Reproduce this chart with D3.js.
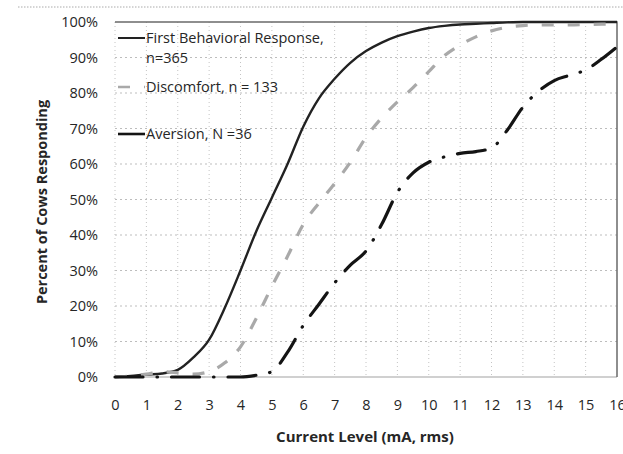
<!DOCTYPE html>
<html>
<head>
<meta charset="utf-8">
<script src="https://cdn.jsdelivr.net/npm/d3@7"></script>
<style>
  html, body { margin: 0; padding: 0; background: #fff; }
  svg { display: block; }
  text { font-family: "Open Sans", "Noto Sans", sans-serif; fill: #262626; }
</style>
</head>
<body>
<div id="chart"></div>
<script>
// Cumulative percent of cows responding vs. current level (mA, rms)

const currentLevels = [0, 0.5, 1, 1.5, 2, 2.5, 3, 3.5, 4, 4.5, 5, 5.5, 6, 6.5, 7, 7.5, 8,
                       8.5, 9, 9.5, 10, 10.5, 11, 11.5, 12, 12.5, 13, 13.5, 14, 14.5, 15, 15.5, 16];

const firstResponse = [0, 0.3, 0.7, 1.0, 2.0, 5.5, 10.5, 19.5, 30, 41, 50.5, 60, 70.5, 78.5, 84, 88.5, 91.8,
                       94.2, 96, 97.3, 98.3, 98.9, 99.3, 99.5, 99.7, 99.9, 100, 100, 100, 100, 100, 100, 100];

const discomfort = [0, 0.3, 0.8, 1.5, 1.2, 0.8, 1.5, 4, 8.5, 16.5, 25.5, 34, 43, 49, 54.5, 60.5, 67.5,
                    73, 77.5, 81.5, 86, 90.5, 93.5, 95.8, 97.5, 98.5, 99, 99.2, 99.2, 99.2, 99.3, 99.4, 99.5];

const aversion = [0, 0, 0, 0, 0, 0, 0, 0, 0, 0.5, 1.5, 7, 14.5, 20.5, 26.5, 31.5, 35.5,
                  43, 52, 57.5, 60.5, 62, 63, 63.5, 64.5, 69.5, 76, 80.5, 83.5, 85, 86.5, 89.5, 93];

const seriesNames = ['First Behavioral Response,', 'Discomfort, n = 133', 'Aversion, N =36'];
const xTicks = d3.range(0, 17);
const yTicks = d3.range(0, 101, 10);

const width = 623, height = 454;
const plot = { left: 115, right: 617, top: 22, bottom: 377 };

const svg = d3.select('#chart').append('svg')
    .attr('width', width).attr('height', height);

const x = d3.scaleLinear().domain([0, 16]).range([plot.left, plot.right]);
const y = d3.scaleLinear().domain([0, 100]).range([plot.bottom, plot.top]);

// scan edge: faint dotted line across the top
svg.append('line')
    .attr('x1', 18).attr('x2', width).attr('y1', 7).attr('y2', 7)
    .attr('stroke', '#aaa').attr('stroke-width', 1).attr('stroke-dasharray', '1.5,1.5');

// gridlines
const grid = svg.append('g');
grid.selectAll('line.h').data(yTicks.slice(1, -1)).join('line')
    .attr('x1', plot.left).attr('x2', plot.right)
    .attr('y1', d => y(d)).attr('y2', d => y(d))
    .attr('stroke', '#bdbdbd').attr('stroke-width', 1).attr('stroke-dasharray', '2,3');
grid.selectAll('line.v').data(xTicks.slice(0, -1)).join('line')
    .attr('y1', plot.top).attr('y2', plot.bottom)
    .attr('x1', d => x(d)).attr('x2', d => x(d))
    .attr('stroke', '#c4c4c4').attr('stroke-width', 1).attr('stroke-dasharray', '1,3');

// 0% baseline, top and right borders
svg.append('line')
    .attr('x1', plot.left).attr('x2', plot.right).attr('y1', y(0)).attr('y2', y(0))
    .attr('stroke', '#d0d0d0').attr('stroke-width', 2);
svg.append('path')
    .attr('d', `M${plot.left},${y(100)}H${plot.right}V${y(0)}`)
    .attr('fill', 'none').attr('stroke', '#6a6a6a').attr('stroke-width', 1.5);

// axes (labels only)
const xAxis = svg.append('g')
    .attr('transform', `translate(0,${plot.bottom})`)
    .call(d3.axisBottom(x).tickValues(xTicks).tickSize(0).tickPadding(23).tickFormat(d3.format('d')));
xAxis.select('.domain').remove();
xAxis.selectAll('text').attr('font-size', '14.5px').style('font-family', '"Open Sans", sans-serif').attr('fill', '#262626');

const yAxis = svg.append('g')
    .attr('transform', `translate(${plot.left},0)`)
    .call(d3.axisLeft(y).tickValues(yTicks).tickSize(0).tickPadding(17).tickFormat(d => d + '%'));
yAxis.select('.domain').remove();
yAxis.selectAll('text').attr('font-size', '14.5px').style('font-family', '"Open Sans", sans-serif').attr('fill', '#262626');

// axis titles
svg.append('text')
    .attr('x', 365).attr('y', 442)
    .attr('text-anchor', 'middle')
    .attr('font-size', '15px').attr('font-weight', 'bold')
    .text('Current Level (mA, rms)');
svg.append('text')
    .attr('transform', 'translate(47,202) rotate(-90)')
    .attr('text-anchor', 'middle')
    .attr('font-size', '14.5px').attr('font-weight', 'bold')
    .text('Percent of Cows Responding');

// series
const styles = [
    { values: firstResponse, stroke: '#222', width: 2.4, dash: null, cap: 'butt' },
    { values: discomfort,    stroke: '#a9a9a9', width: 3.2, dash: '12,14', cap: 'butt' },
    { values: aversion,      stroke: '#141414', width: 3.2, dash: '28,14,0.5,14', cap: 'round' },
];

const line = d3.line()
    .x(d => x(d[0]))
    .y(d => y(d[1]))
    .curve(d3.curveMonotoneX);

styles.forEach(s => {
    svg.append('path')
        .datum(currentLevels.map((c, i) => [c, s.values[i]]))
        .attr('fill', 'none')
        .attr('stroke', s.stroke)
        .attr('stroke-width', s.width)
        .attr('stroke-dasharray', s.dash)
        .attr('stroke-linecap', s.cap)
        .attr('d', line);
});

// legend
const legendRows = [38, 87, 134];
const legend = svg.append('g');
styles.forEach((s, i) => {
    legend.append('line')
        .attr('x1', 118).attr('x2', 145)
        .attr('y1', legendRows[i]).attr('y2', legendRows[i])
        .attr('stroke', s.stroke)
        .attr('stroke-width', i === 0 ? 2 : 2.6)
        .attr('stroke-dasharray', s.dash);
    legend.append('text')
        .attr('x', 146).attr('y', legendRows[i])
        .attr('dy', '0.35em')
        .attr('font-size', '14.5px')
        .text(seriesNames[i]);
});
legend.append('text')
    .attr('x', 146).attr('y', 58).attr('dy', '0.35em')
    .attr('font-size', '14.5px')
    .text('n=365');
</script>
</body>
</html>
